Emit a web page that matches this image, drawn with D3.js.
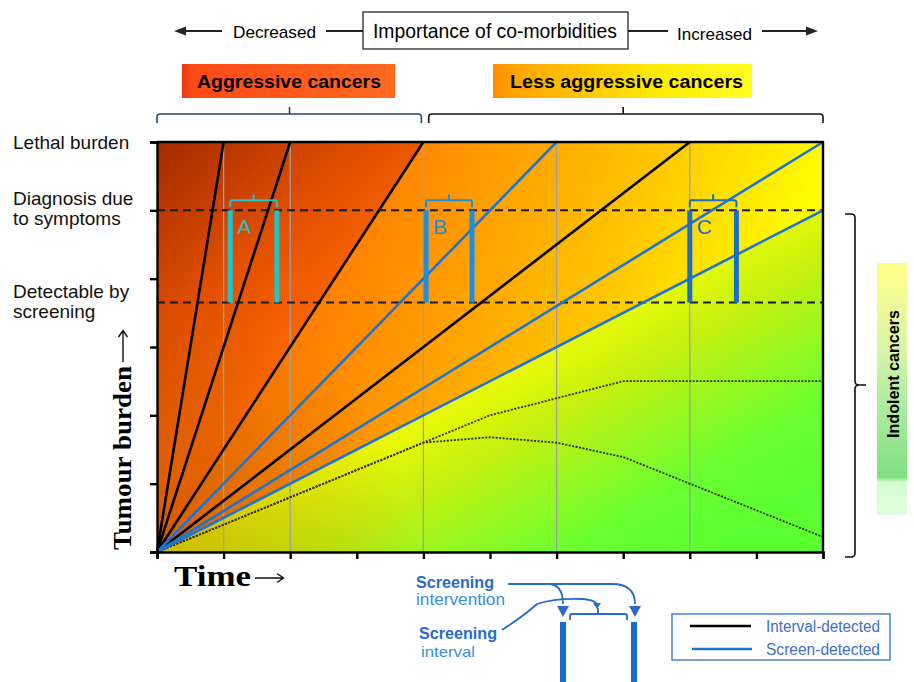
<!DOCTYPE html>
<html>
<head>
<meta charset="utf-8">
<script src="https://cdn.jsdelivr.net/npm/d3@7"></script>
<style>
  body { margin: 0; background: #fff; }
  text { font-family: "Liberation Sans", Arial, sans-serif; }
</style>
</head>
<body>
<svg id="chart" width="914" height="682"></svg>
<script>
// growth lines start at the origin, these are their end points (time, burden)
var intervalEnds = [[1, 6], [2, 6], [4, 6], [8, 6]];
var screenEnds = [[6, 6], [10, 6], [10, 5]];
// indolent (dotted) paths
var indolentUpper = [[0, 0], [4, 1.6], [5, 2.0], [7, 2.5], [10, 2.5]];
var indolentLower = [[0, 0], [4, 1.6], [5, 1.68], [6, 1.6], [7, 1.39], [10, 0.22]];
var thresholds = [5, 3.65];
var gridTimes = [1, 2, 4, 6, 8];
var xTicks = [0, 1, 2, 3, 4, 5, 6, 7, 8, 9, 10];
var yTicks = [0, 1, 2, 3, 4, 5, 6];
var levelNames = ["Lethal burden", "Diagnosis due|to symptoms", "Detectable by|screening"];
var levelValues = [6, 5, 3.65];
var pairNames = ["A", "B", "C"];
var pairStarts = [1.1, 4.04, 8.0];
var pairEnds = [1.8, 4.73, 8.7];
// background fan sectors
var sectorTop = [[0, 0], [0, 6], [4, 6]];
var sectorMid = [[0, 0], [4, 6], [10, 6], [10, 5]];
var sectorLow = [[0, 0], [10, 5], [10, 0]];

var pairColors = ["#22c4cc", "#1e8ee0", "#1a6ec8"];
var blue = "#1f74d0";

var svg = d3.select("#chart");
var x = d3.scaleLinear().domain([0, 10]).range([157, 823]);
var y = d3.scaleLinear().domain([0, 6]).range([552, 142]);
var line = d3.line().x(function (d) { return x(d[0]); }).y(function (d) { return y(d[1]); });

var defs = svg.append("defs");
function linGrad(id, x1, y1, x2, y2, stops) {
  var g = defs.append("linearGradient").attr("id", id)
    .attr("gradientUnits", "userSpaceOnUse")
    .attr("x1", x1).attr("y1", y1).attr("x2", x2).attr("y2", y2);
  stops.forEach(function (s) {
    g.append("stop").attr("offset", s[0]).attr("stop-color", s[1]);
  });
}
linGrad("gTop", 157, 142, 330, 330, [[0, "#a32a00"], [0.55, "#e04e00"], [1, "#ff6a00"]]);
linGrad("gMid", 330, 142, 823, 330, [[0, "#ff7400"], [0.2, "#ff8e00"], [0.6, "#ffc800"], [0.9, "#ffff00"]]);
linGrad("gLow", 560, 300, 710, 560, [[0, "#ffff00"], [0.33, "#c4f010"], [0.75, "#66ff33"], [1, "#5cff30"]]);
linGrad("gAggr", 182, 0, 395, 0, [[0, "#e83a10"], [0.05, "#ff4a18"], [1, "#ff6a20"]]);
linGrad("gLess", 493, 0, 752, 0, [[0, "#ff8c00"], [0.08, "#ffa400"], [0.6, "#ffe800"], [1, "#ffff20"]]);
linGrad("gIndo", 0, 263, 0, 515, [[0, "#ffff88"], [0.35, "#d8f4a8"], [0.55, "#b0eca0"], [0.85, "#80e080"], [0.87, "#d4fcd0"], [1, "#e0fde0"]]);
var rg = defs.append("radialGradient").attr("id", "gDark").attr("gradientUnits", "userSpaceOnUse")
  .attr("cx", 157).attr("cy", 552).attr("r", 260);
rg.append("stop").attr("offset", 0).attr("stop-color", "#804000").attr("stop-opacity", 0.35);
rg.append("stop").attr("offset", 1).attr("stop-color", "#804000").attr("stop-opacity", 0);

// sectors
var plot = svg.append("g");
[[sectorTop, "gTop"], [sectorMid, "gMid"], [sectorLow, "gLow"]].forEach(function (s) {
  plot.append("path").attr("d", line(s[0]) + "Z").attr("fill", "url(#" + s[1] + ")");
});
plot.append("rect").attr("x", x(0)).attr("y", y(6)).attr("width", x(10) - x(0)).attr("height", y(0) - y(6))
  .attr("fill", "url(#gDark)");

// grid
plot.selectAll(".grid").data(gridTimes).enter().append("line")
  .attr("x1", function (d) { return x(d); }).attr("x2", function (d) { return x(d); })
  .attr("y1", y(0)).attr("y2", y(6))
  .attr("stroke", "#a0a0a0").attr("stroke-width", 1.3);

// dashed thresholds
plot.selectAll(".thr").data(thresholds).enter().append("line")
  .attr("x1", x(0)).attr("x2", x(10))
  .attr("y1", function (d) { return y(d); }).attr("y2", function (d) { return y(d); })
  .attr("stroke", "#1a1a1a").attr("stroke-width", 2).attr("stroke-dasharray", "8,5");

// indolent dotted
[indolentUpper, indolentLower].forEach(function (p) {
  plot.append("path").attr("d", line(p)).attr("fill", "none")
    .attr("stroke", "#332a00").attr("stroke-width", 1.8).attr("stroke-dasharray", "2,1.5");
});

// growth lines
plot.selectAll(".ivl").data(intervalEnds).enter().append("path")
  .attr("d", function (d) { return line([[0, 0], d]); })
  .attr("stroke", "#000").attr("stroke-width", 2.6);
plot.selectAll(".scr").data(screenEnds).enter().append("path")
  .attr("d", function (d) { return line([[0, 0], d]); })
  .attr("stroke", blue).attr("stroke-width", 2.6);

// screening pairs
pairNames.forEach(function (n, i) {
  var c = pairColors[i], a = x(pairStarts[i]), b = x(pairEnds[i]);
  var top = y(levelValues[1]), bot = y(levelValues[2]);
  plot.append("line").attr("x1", a).attr("x2", a).attr("y1", top).attr("y2", bot)
    .attr("stroke", c).attr("stroke-width", 5);
  plot.append("line").attr("x1", b).attr("x2", b).attr("y1", top).attr("y2", bot)
    .attr("stroke", c).attr("stroke-width", 5);
  var yb = top - 10;
  plot.append("path")
    .attr("d", "M" + a + "," + (yb + 7) + "V" + (yb + 2) + "Q" + a + "," + yb + " " + (a + 2) + "," + yb +
      "H" + (b - 2) + "Q" + b + "," + yb + " " + b + "," + (yb + 2) + "V" + (yb + 7) +
      "M" + ((a + b) / 2) + "," + yb + "V" + (yb - 6))
    .attr("fill", "none").attr("stroke", c).attr("stroke-width", 2);
  plot.append("text").attr("x", a + 7).attr("y", top + 24).text(n)
    .attr("fill", c).style("font-size", "21px");
});

// frame and axes
plot.append("path").attr("d", "M" + x(0) + "," + y(6) + "H" + x(10) + "V" + y(0))
  .attr("fill", "none").attr("stroke", "#000").attr("stroke-width", 2.4);
var xAxis = svg.append("g").attr("transform", "translate(0," + y(0) + ")")
  .call(d3.axisBottom(x).tickValues(xTicks).tickSize(7).tickFormat(""));
var yAxis = svg.append("g").attr("transform", "translate(" + x(0) + ",0)")
  .call(d3.axisLeft(y).tickValues(yTicks).tickSize(7).tickFormat(""));
[xAxis, yAxis].forEach(function (ax) {
  ax.selectAll("path,line").attr("stroke", "#000").attr("stroke-width", 2.4);
});

// level labels
levelNames.forEach(function (n, i) {
  var parts = n.split("|");
  var yy = y(levelValues[i]);
  var t = svg.append("text").attr("x", 13).style("font-size", "19px").attr("fill", "#111");
  if (parts.length == 1) {
    t.attr("y", yy + 7).text(parts[0]);
  } else {
    t.append("tspan").attr("x", 13).attr("y", yy - 5).text(parts[0]);
    t.append("tspan").attr("x", 13).attr("y", yy + 15).text(parts[1]);
  }
});

// axis titles, with drawn long arrows
var serif = "'Liberation Serif','Times New Roman',serif";
svg.append("text").attr("transform", "translate(131,550) rotate(-90)")
  .style("font-family", serif).style("font-weight", "bold")
  .style("font-size", "26px").attr("textLength", 184).attr("lengthAdjust", "spacingAndGlyphs")
  .text("Tumour burden");
svg.append("path").attr("d", "M123,362V331 M118.5,337L123,330.5L127.5,337")
  .attr("fill", "none").attr("stroke", "#111").attr("stroke-width", 1.4);
svg.append("text").attr("x", 174).attr("y", 586)
  .style("font-family", serif).style("font-weight", "bold")
  .style("font-size", "29px").attr("textLength", 77).attr("lengthAdjust", "spacingAndGlyphs")
  .text("Time");
svg.append("path").attr("d", "M255,578H283 M277,573.5L283.5,578L277,582.5")
  .attr("fill", "none").attr("stroke", "#111").attr("stroke-width", 1.4);

// top header
var head = svg.append("g");
head.append("rect").attr("x", 363).attr("y", 12).attr("width", 265).attr("height", 37)
  .attr("fill", "#fff").attr("stroke", "#444").attr("stroke-width", 1.5);
head.append("text").attr("x", 373).attr("y", 38).style("font-size", "20px")
  .attr("textLength", 244).attr("lengthAdjust", "spacingAndGlyphs").text("Importance of co-morbidities");
head.append("text").attr("x", 233).attr("y", 38).style("font-size", "17px")
  .attr("textLength", 83).attr("lengthAdjust", "spacingAndGlyphs").text("Decreased");
head.append("text").attr("x", 677).attr("y", 40).style("font-size", "17px")
  .attr("textLength", 75).attr("lengthAdjust", "spacingAndGlyphs").text("Increased");
head.append("path").attr("d", "M184,31H222M326,31H363M628,31H668M762,31H808")
  .attr("stroke", "#222").attr("stroke-width", 2);
head.append("path").attr("d", "M174,31L186,26.5L186,35.5Z M818,31L806,26.5L806,35.5Z").attr("fill", "#222");

// cancer type boxes
svg.append("rect").attr("x", 182).attr("y", 64).attr("width", 213).attr("height", 34).attr("fill", "url(#gAggr)");
svg.append("text").attr("x", 197).attr("y", 88).style("font-size", "18px").style("font-weight", "bold")
  .attr("textLength", 184).attr("lengthAdjust", "spacingAndGlyphs").text("Aggressive cancers");
svg.append("rect").attr("x", 493).attr("y", 64).attr("width", 259).attr("height", 34).attr("fill", "url(#gLess)");
svg.append("text").attr("x", 510).attr("y", 88).style("font-size", "18px").style("font-weight", "bold")
  .attr("textLength", 233).attr("lengthAdjust", "spacingAndGlyphs").text("Less aggressive cancers");
function hBrace(x0, x1, xm, yy, col) {
  svg.append("path")
    .attr("d", "M" + x0 + "," + (yy + 9) + "V" + (yy + 3) + "Q" + x0 + "," + yy + " " + (x0 + 3) + "," + yy +
      "H" + (x1 - 3) + "Q" + x1 + "," + yy + " " + x1 + "," + (yy + 3) + "V" + (yy + 9) +
      "M" + xm + "," + yy + "V" + (yy - 7))
    .attr("fill", "none").attr("stroke", col).attr("stroke-width", 1.6);
}
hBrace(x(0), x(3.97), x(1.99), 114, "#2c4670");
hBrace(x(4.08), x(10), x(7), 114, "#111");

// indolent brace and box
svg.append("path").attr("d", "M845,214H851Q855,214 855,218V381Q855,385 859,385H866M859,385Q855,385 855,389V553Q855,557 851,557H845")
  .attr("fill", "none").attr("stroke", "#111").attr("stroke-width", 1.6);
svg.append("rect").attr("x", 877).attr("y", 263).attr("width", 30).attr("height", 252).attr("fill", "url(#gIndo)");
svg.append("text").attr("transform", "translate(899,374) rotate(-90)").attr("text-anchor", "middle")
  .style("font-size", "17px").style("font-weight", "bold")
  .attr("textLength", 128).attr("lengthAdjust", "spacingAndGlyphs").text("Indolent cancers");

// screening annotation
var ann = svg.append("g");
var c1 = "#2a6ac8", c2 = "#3a8fd8";
ann.append("text").attr("x", 416).attr("y", 588).style("font-size", "16px").style("font-weight", "bold")
  .attr("fill", c1).attr("textLength", 78).attr("lengthAdjust", "spacingAndGlyphs").text("Screening");
ann.append("text").attr("x", 416).attr("y", 605).style("font-size", "16px")
  .attr("fill", c2).attr("textLength", 89).attr("lengthAdjust", "spacingAndGlyphs").text("intervention");
ann.append("text").attr("x", 419).attr("y", 639).style("font-size", "16px").style("font-weight", "bold")
  .attr("fill", c1).attr("textLength", 78).attr("lengthAdjust", "spacingAndGlyphs").text("Screening");
ann.append("text").attr("x", 421).attr("y", 657).style("font-size", "15px")
  .attr("fill", c2).attr("textLength", 54).attr("lengthAdjust", "spacingAndGlyphs").text("interval");
ann.append("path").attr("d", "M508,584H548Q563,584 563,604 M548,584H612Q635,584 635,604 M502,630Q525,615 537,604Q555,598 582,599Q597,600 597,606 M570,620V616Q570,614 572,614H625Q627,614 627,616V620 M598,614V608")
  .attr("fill", "none").attr("stroke", c1).attr("stroke-width", 1.8);
ann.append("path").attr("d", "M557,606L569,606L563,617Z M629,606L641,606L635,617Z M593,603L601,603L597,609Z").attr("fill", c1);
ann.append("path").attr("d", "M563,622V682 M634,622V682").attr("stroke", "#1a6ec8").attr("stroke-width", 6);

// legend
var leg = svg.append("g");
leg.append("rect").attr("x", 672).attr("y", 614).attr("width", 218).attr("height", 46)
  .attr("fill", "#fff").attr("stroke", "#4a80d0").attr("stroke-width", 1.5);
leg.append("line").attr("x1", 690).attr("x2", 751).attr("y1", 626).attr("y2", 626).attr("stroke", "#000").attr("stroke-width", 2.6);
leg.append("line").attr("x1", 692).attr("x2", 752).attr("y1", 649).attr("y2", 649).attr("stroke", blue).attr("stroke-width", 2.6);
leg.append("text").attr("x", 766).attr("y", 632).style("font-size", "16px").attr("fill", "#3f6fc0")
  .attr("textLength", 114).attr("lengthAdjust", "spacingAndGlyphs").text("Interval-detected");
leg.append("text").attr("x", 766).attr("y", 655).style("font-size", "16px").attr("fill", "#3f6fc0")
  .attr("textLength", 114).attr("lengthAdjust", "spacingAndGlyphs").text("Screen-detected");
</script>
</body>
</html>
